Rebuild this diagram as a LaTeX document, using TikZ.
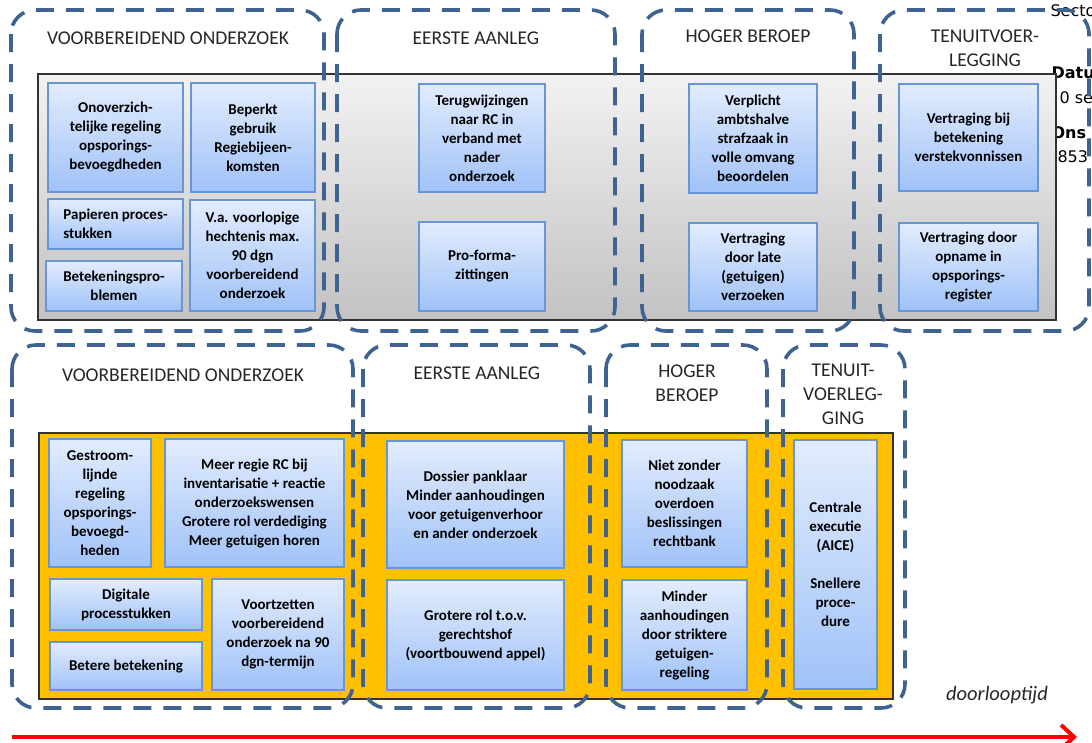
\documentclass[tikz,border=0pt]{standalone}
\usepackage{fontspec}
\setmainfont{Carlito}
\newfontfamily\margefont{DejaVu Sans}
\usetikzlibrary{arrows.meta}

\definecolor{kaderblauw}{RGB}{62,99,145}
\definecolor{vakboven}{RGB}{226,236,253}
\definecolor{vakonder}{RGB}{160,194,248}
\definecolor{vakrand}{RGB}{104,150,212}
\definecolor{grijsboven}{RGB}{242,242,242}
\definecolor{grijsonder}{RGB}{194,194,194}
\definecolor{oranje}{RGB}{255,192,0}

\begin{document}
\begin{tikzpicture}[x=1pt, y=-1pt,
  vak/.style={draw=vakrand, line width=1.2pt, top color=vakboven, bottom color=vakonder,
    align=center, inner sep=2pt, font=\fontsize{15}{19}\selectfont\bfseries},
  fase/.style={draw=kaderblauw, line width=3.6pt, dash pattern=on 18pt off 12pt, rounded corners=24pt},
  kop/.style={align=center, text=black!85, font=\fontsize{19.5}{24}\selectfont},
  marge/.style={anchor=base west, font=\margefont\fontsize{16}{19}\selectfont},
  margevet/.style={anchor=base west, font=\margefont\bfseries\fontsize{16}{19}\selectfont},
  tijdpijl/.style={red, line width=4.5pt, -{Straight Barb[length=13pt, width=24pt, line width=4pt]}}]
  \useasboundingbox (0,0) rectangle (1092,742);

  \node[marge] (msector) at (1047,16) {Secto};
  \node[margevet] (mdatum) at (1048,78) {Datu};
  \node[marge] (mdag) at (1056,103) {0 se};
  \node[margevet] (mons) at (1048,138) {Ons};
  \node[marge] (mnummer) at (1054,162) {853};

  \draw[draw=black!80, line width=1.2pt, top color=grijsboven, bottom color=grijsonder]
    (38,74) rectangle (1056,320);
  \draw[draw=black!80, line width=1.5pt, fill=oranje]
    (39,433) rectangle (893,699);

  \draw[fase] (11,10) rectangle (324,331);
  \draw[fase] (337,10) rectangle (615,331);
  \draw[fase] (642,10) rectangle (854,331);
  \draw[fase] (880,10) rectangle (1089,331);

  \draw[fase] (12,345) rectangle (353,708);
  \draw[fase] (363,345) rectangle (590,708);
  \draw[fase] (606,345) rectangle (767,708);
  \draw[fase] (783,345) rectangle (905,708);

  \node[kop] (ovo) at (168,38) {VOORBEREIDEND ONDERZOEK};
  \node[kop] (oea) at (476,38) {EERSTE AANLEG};
  \node[kop] (ohb) at (748,36) {HOGER BEROEP};
  \node[kop] (oten) at (985,48) {TENUITVOER-\\LEGGING};

  \node[kop] (nvo) at (183,375) {VOORBEREIDEND ONDERZOEK};
  \node[kop] (nea) at (477,373) {EERSTE AANLEG};
  \node[kop] (nhb) at (687,383) {HOGER\\BEROEP};
  \node[kop] (nten) at (843,394) {TENUIT-\\VOERLEG-\\GING};

  \node[vak, minimum width=135, minimum height=109]
    (onoverz) at (115.5,137.5) {Onoverzich-\\telijke regeling\\opsporings-\\bevoegdheden};
  \node[vak, minimum width=124, minimum height=109]
    (beperkt) at (253,137.5) {Beperkt\\gebruik\\Regiebijeen-\\komsten};
  \node[vak, align=left, minimum width=135, minimum height=50]
    (papier) at (115.5,224) {Papieren proces-\\stukken};
  \node[vak, minimum width=136, minimum height=50]
    (betprob) at (114,286) {Betekeningspro-\\blemen};
  \node[vak, minimum width=125, minimum height=111]
    (voorlop) at (252.5,255.5) {V.a. voorlopige\\hechtenis max.\\90 dgn\\voorbereidend\\onderzoek};

  \node[vak, minimum width=126, minimum height=108]
    (terugw) at (482,138) {Terugwijzingen\\naar RC in\\verband met\\nader\\onderzoek};
  \node[vak, minimum width=126, minimum height=89]
    (proforma) at (482,266.5) {Pro-forma-\\zittingen};

  \node[vak, minimum width=128, minimum height=109]
    (verplicht) at (753,138.5) {Verplicht\\ambtshalve\\strafzaak in\\volle omvang\\beoordelen};
  \node[vak, minimum width=128, minimum height=88]
    (late) at (753,267) {Vertraging\\door late\\(getuigen)\\verzoeken};

  \node[vak, minimum width=139, minimum height=107]
    (verstek) at (968.5,137.5) {Vertraging bij\\betekening\\verstekvonnissen};
  \node[vak, minimum width=139, minimum height=88]
    (opname) at (968.5,267) {Vertraging door\\opname in\\opsporings-\\register};

  \node[vak, minimum width=102, minimum height=128]
    (gestroom) at (100,503) {Gestroom-\\lijnde\\regeling\\opsporings-\\bevoegd-\\heden};
  \node[vak, minimum width=179, minimum height=128]
    (regie) at (254.5,503) {Meer regie RC bij\\inventarisatie + reactie\\onderzoekswensen\\Grotere rol verdediging\\Meer getuigen horen};
  \node[vak, minimum width=152, minimum height=51]
    (digitaal) at (126,604.5) {Digitale\\processtukken};
  \node[vak, minimum width=152, minimum height=48]
    (beterbet) at (126,666) {Betere betekening};
  \node[vak, minimum width=132, minimum height=111]
    (voortzet) at (278,634.5) {Voortzetten\\voorbereidend\\onderzoek na 90\\dgn-termijn};

  \node[vak, minimum width=177, minimum height=127]
    (panklaar) at (475.5,504.5) {Dossier panklaar\\Minder aanhoudingen\\voor getuigenverhoor\\en ander onderzoek};
  \node[vak, minimum width=177, minimum height=110]
    (hof) at (475.5,635) {Grotere rol t.o.v.\\gerechtshof\\(voortbouwend appel)};

  \node[vak, minimum width=125, minimum height=127]
    (nietzonder) at (684.5,503.5) {Niet zonder\\noodzaak\\overdoen\\beslissingen\\rechtbank};
  \node[vak, minimum width=125, minimum height=110]
    (striktere) at (684.5,635) {Minder\\aanhoudingen\\door striktere\\getuigen-\\regeling};

  \node[vak, minimum width=83, minimum height=249]
    (aice) at (835.5,564.5) {Centrale\\executie\\(AICE)\\[19pt]Snellere\\proce-\\dure};

  \node[font=\fontsize{20.5}{24}\selectfont\itshape, text=black!85]
    (doorloop) at (997,695) {doorlooptijd};

  \coordinate (tbegin) at (12,737);
  \coordinate (teind) at (1077,737);
  \draw[tijdpijl] (tbegin) -- (teind);

\end{tikzpicture}
\end{document}
